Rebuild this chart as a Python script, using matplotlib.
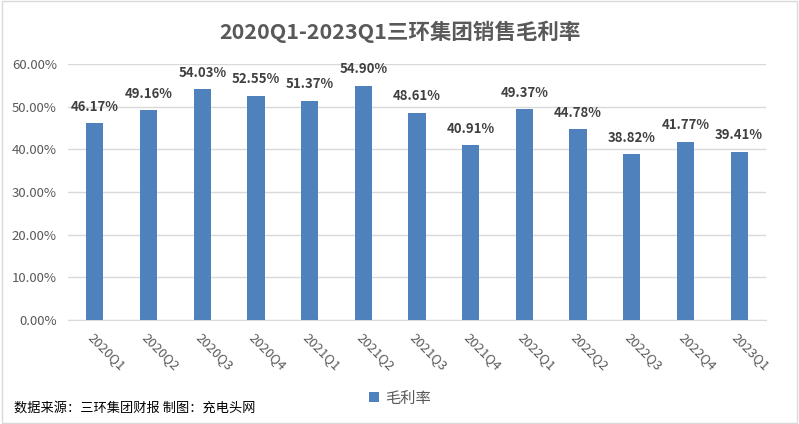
import matplotlib.pyplot as plt
from matplotlib.patches import Rectangle

plt.rcParams['font.family'] = ['Noto Sans CJK SC', 'DejaVu Sans']

quarters = ['2020Q1', '2020Q2', '2020Q3', '2020Q4', '2021Q1', '2021Q2', '2021Q3',
            '2021Q4', '2022Q1', '2022Q2', '2022Q3', '2022Q4', '2023Q1']
margin = [46.17, 49.16, 54.03, 52.55, 51.37, 54.90, 48.61,
          40.91, 49.37, 44.78, 38.82, 41.77, 39.41]

fig = plt.figure(figsize=(7.99, 4.24), dpi=100)
ax = fig.add_axes([68 / 799, 104 / 424, 698 / 799, 256 / 424])

x = range(len(quarters))
bars = ax.bar(x, margin, width=0.32, color='#4f81bd', label='毛利率', zorder=3)

for i, v in enumerate(margin):
    ax.text(i, v + 2.2, f'{v:.2f}%', ha='center', va='bottom',
            fontsize=9.5, fontweight='bold', color='#404040')

ax.set_xlim(-0.5, len(quarters) - 0.5)
ax.set_ylim(0, 60)
ax.set_yticks(range(0, 61, 10))
ax.set_yticklabels([f'{t:.2f}%' for t in range(0, 61, 10)], fontsize=9.5,
                   color='#595959', fontweight='medium')
ax.set_xticks(list(x))
ax.set_xticklabels(quarters, rotation=-45, ha='left', rotation_mode='anchor',
                   fontsize=9.5, color='#595959')
ax.tick_params(axis='both', length=0, pad=8)
ax.grid(axis='y', color='#d9d9d9', linewidth=1, zorder=0)
for s in ['top', 'right', 'left']:
    ax.spines[s].set_visible(False)
ax.spines['bottom'].set_color('#d9d9d9')

fig.text(0.5, 1 - 32 / 424, '2020Q1-2023Q1三环集团销售毛利率', ha='center', va='center',
         fontsize=15.5, fontweight='bold', color='#595959')

fig.legend(handles=[bars], loc='center', bbox_to_anchor=(400 / 799, 1 - 398 / 424),
           frameon=False, fontsize=11, handlelength=0.6, handleheight=0.6,
           labelcolor='#595959', handletextpad=0.4)

fig.text(14 / 799, 1 - 408 / 424, '数据来源：三环集团财报 制图：充电头网', ha='left', va='center',
         fontsize=9.5, color='black')

fig.patches.append(Rectangle((0.002, 0.003), 0.995, 0.994, transform=fig.transFigure,
                             fill=False, edgecolor='#d9d9d9', linewidth=1))

fig.savefig('out.png', dpi=100)
